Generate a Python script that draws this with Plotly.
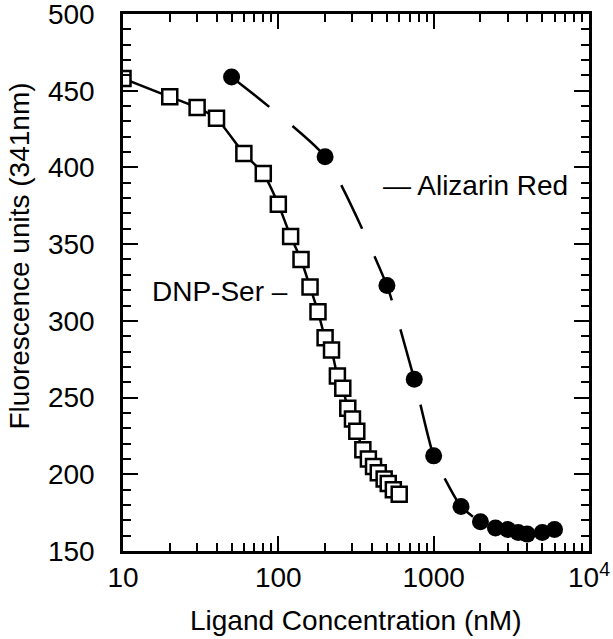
import plotly.graph_objects as go

# DNP-Ser (open squares, solid line)
dnp_x = [10, 20, 30, 40, 60, 80, 100, 120, 140, 160, 180, 200, 220, 240, 260, 280,
         300, 320, 350, 380, 410, 440, 480, 510, 550, 600]
dnp_y = [458, 446, 439, 432, 409, 396, 376, 355, 340, 322, 306, 289, 281, 264, 256, 243,
         236, 228, 216, 210, 205, 201, 197, 194, 190, 187]

# Alizarin Red (filled circles, dashed line)
ali_x = [50, 200, 500, 750, 1000, 1500, 2000, 2500, 3000, 3500, 4000, 5000, 6000]
ali_y = [459, 407, 323, 262, 212, 179, 169, 165, 164, 162, 161, 162, 164]

x_tickvals = [10, 100, 1000, 10000]
x_ticktext = ["10", "100", "1000", "10<sup>4</sup>"]
y_tickvals = [150, 200, 250, 300, 350, 400, 450, 500]

FONT = "Liberation Sans, Arial, sans-serif"
FS = 28

fig = go.Figure()
fig.add_trace(go.Scatter(
    x=ali_x, y=ali_y, mode="lines+markers",
    line=dict(color="black", width=2.5, dash="48px,30px", shape="spline", smoothing=0.5),
    marker=dict(symbol="circle", size=17, color="black"),
    showlegend=False))
fig.add_trace(go.Scatter(
    x=dnp_x, y=dnp_y, mode="lines+markers",
    line=dict(color="black", width=2.5, shape="spline", smoothing=0.5),
    marker=dict(symbol="square", size=15, color="white", line=dict(color="black", width=2.5)),
    showlegend=False))

fig.update_layout(
    width=613, height=639,
    margin=dict(l=123, r=24, t=14, b=88, autoexpand=False),
    paper_bgcolor="white", plot_bgcolor="white",
    font=dict(family=FONT, size=FS, color="black"),
    xaxis=dict(type="log", range=[1, 4], tickvals=x_tickvals, ticktext=x_ticktext,
               ticks="inside", ticklen=15, tickwidth=2, tickcolor="black",
               showline=True, linecolor="black", linewidth=2.5, mirror="ticks",
               showgrid=False, zeroline=False, ticklabelstandoff=0, automargin=False,
               ticklabeloverflow="allow",
               minor=dict(ticks="inside", ticklen=8, tickwidth=2, tickcolor="black",
                          dtick="D1", showgrid=False)),
    yaxis=dict(range=[150, 500], tickvals=y_tickvals,
               ticks="inside", ticklen=15, tickwidth=2, tickcolor="black",
               showline=True, linecolor="black", linewidth=2.5, mirror="ticks",
               showgrid=False, zeroline=False, ticklabelstandoff=20, automargin=False,
               ticklabeloverflow="allow",
               minor=dict(ticks="inside", ticklen=8, tickwidth=2, tickcolor="black",
                          dtick=10, showgrid=False)),
    annotations=[
        dict(text="Fluorescence units (341nm)", textangle=-90, xref="paper", yref="paper",
             x=0, y=0.5, xshift=-104, yshift=26, xanchor="center", yanchor="middle",
             showarrow=False, font=dict(size=FS)),
        dict(text="Ligand Concentration (nM)", xref="paper", yref="paper",
             x=0.5, y=0, yshift=-69, xanchor="center", yanchor="middle", showarrow=False,
             font=dict(size=FS)),
        dict(text="DNP-Ser \u2013", xref="x", yref="y", x=2.075, y=319,
             xanchor="right", yanchor="middle", showarrow=False, font=dict(size=FS)),
        dict(text="\u2014 Alizarin Red", xref="x", yref="y", x=2.661, y=388,
             xanchor="left", yanchor="middle", showarrow=False, font=dict(size=FS)),
    ],
)

fig.write_html("out.html", config={"displayModeBar": False},
               post_script="document.body.style.margin='0';document.body.style.overflow='hidden';")
